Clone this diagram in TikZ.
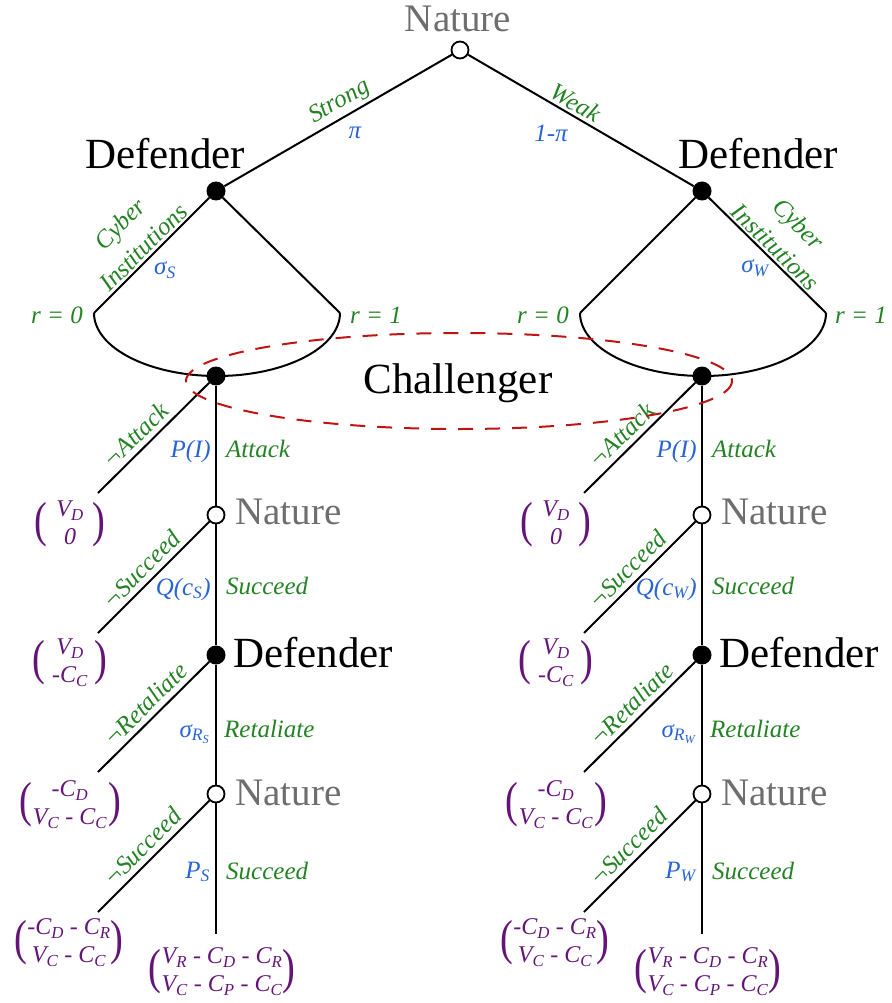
\documentclass[tikz,border=0pt]{standalone}
\usepackage{graphicx}
\usepackage{fontspec}
\setmainfont{Liberation Serif}
\definecolor{lblgreen}{RGB}{35,130,35}
\definecolor{lblblue}{RGB}{40,100,215}
\definecolor{paypurple}{RGB}{100,20,120}
\definecolor{natgray}{RGB}{110,110,110}
\definecolor{infored}{RGB}{190,20,20}
\newcommand{\pv}[2]{#1\textsubscript{#2}}
\newcommand{\bigparen}[1]{\vcenter{\hbox{\upshape\scalebox{1.6}[2.05]{#1}}}}
\newcommand{\payoff}[3][2pt]{$\bigparen{(}\vcenter{\hbox{\begin{tabular}{@{\hspace{#1}}c@{\hspace{#1}}}#2\\#3\end{tabular}}}\bigparen{)}$}
\begin{document}
\begin{tikzpicture}[x=1pt,y=-1pt,
  chance/.style={circle,draw=black,fill=white,line width=1.8pt,minimum size=17pt,inner sep=0pt},
  dec/.style={circle,fill=black,minimum size=19pt,inner sep=0pt},
  branch/.style={line width=2pt,black},
  act/.style={font=\fontsize{25}{30}\selectfont\itshape,text=lblgreen,inner sep=1pt},
  prob/.style={font=\fontsize{25}{30}\selectfont\itshape,text=lblblue,inner sep=1pt},
  player/.style={font=\fontsize{43}{50}\selectfont,text=black,inner sep=0pt},
  natlbl/.style={font=\fontsize{39}{46}\selectfont,text=natgray,inner sep=0pt},
  pay/.style={font=\fontsize{24}{28}\selectfont\itshape,text=paypurple,inner sep=0pt},
  diag/.style={act,sloped,above=4pt},
  twoline/.style={act,sloped,above=1pt,align=center,font=\fontsize{25}{33}\selectfont\itshape},
]
\useasboundingbox (0,0) rectangle (891,1003);
% top of the tree
\node[chance] (n0) at (460,50) {};
\node[natlbl,anchor=base] (n0t) at (458,32) {Nature};
\node[dec] (dS) at (216,191) {};
\node[dec] (dW) at (702,191) {};
\node[player,anchor=base] (dSt) at (165,168) {Defender};
\node[player,anchor=base] (dWt) at (758,168) {Defender};
\draw[branch] (n0) -- node[act,sloped,above=2pt,pos=0.46]{Strong} (dS);
\draw[branch] (n0) -- node[act,sloped,above=2pt,pos=0.45]{Weak} (dW);
\node[prob] (piS) at (355,133) {π};
\node[prob] (piW) at (551,133) {1-π};
% fans
\coordinate (lS0) at (94,313); \coordinate (lS1) at (340,313);
\coordinate (lW0) at (580,313); \coordinate (lW1) at (826,313);
\draw[branch] (dS) -- node[twoline,pos=0.5]{Cyber\\Institutions} (lS0);
\draw[branch] (dS) -- (lS1);
\draw[branch] (dW) -- (lW0);
\draw[branch] (dW) -- node[twoline,pos=0.5]{Cyber\\Institutions} (lW1);
\draw[branch] (lS0) arc[start angle=180,end angle=0,x radius=123,y radius=63];
\draw[branch] (lW0) arc[start angle=180,end angle=0,x radius=123,y radius=63];
\node[prob] (sgS) at (165,270) {σ\textsubscript{S}};
\node[prob] (sgW) at (755,268) {σ\textsubscript{W}};
\node[act] (rS0) at (57,315) {r = 0};
\node[act] (rS1) at (376,315) {r = 1};
\node[act] (rW0) at (543,315) {r = 0};
\node[act] (rW1) at (861,315) {r = 1};
% chains
\foreach \s/\X in {S/216, W/702} {
  \node[dec] (c\s) at (\X,376) {};
  \node[chance] (a\s) at (\X,515) {};
  \node[dec] (r\s) at (\X,655) {};
  \node[chance] (b\s) at (\X,794) {};
  \coordinate (e\s) at (\X,934);
  \coordinate (p1\s) at (\X-118,493);
  \coordinate (p2\s) at (\X-118,633);
  \coordinate (p3\s) at (\X-118,772);
  \coordinate (p4\s) at (\X-118,912);
  \draw[branch] (c\s) -- (a\s) -- (r\s) -- (b\s) -- (e\s);
  \draw[branch] (c\s) -- node[diag,pos=0.57]{¬Attack} (p1\s);
  \draw[branch] (a\s) -- node[diag,pos=0.52]{¬Succeed} (p2\s);
  \draw[branch] (r\s) -- node[diag,pos=0.48]{¬Retaliate} (p3\s);
  \draw[branch] (b\s) -- node[diag,pos=0.51]{¬Succeed} (p4\s);
  \node[natlbl,anchor=base west] (at\s) at (\X+19,524) {Nature};
  \node[player,anchor=base west] (rt\s) at (\X+17,667) {Defender};
  \node[natlbl,anchor=base west] (bt\s) at (\X+19,805) {Nature};
  \node[prob,anchor=base east] (l1\s) at (\X-4,457) {P(I)};
  \node[act,anchor=base west] (m1\s) at (\X+9,457) {Attack};
  \node[prob,anchor=base east] (l2\s) at (\X-4,595) {Q(c\textsubscript{\s})};
  \node[act,anchor=base west] (m2\s) at (\X+9,594) {Succeed};
  \node[prob,anchor=base east] (l3\s) at (\X-5,737) {σ\textsubscript{R\textsubscript{\s}}};
  \node[act,anchor=base west] (m3\s) at (\X+7,737) {Retaliate};
  \node[prob,anchor=base east] (l4\s) at (\X-5,878) {P\textsubscript{\s}};
  \node[act,anchor=base west] (m4\s) at (\X+9,879) {Succeed};
  \node[pay] (q1\s) at (\X-146,525) {\payoff[9pt]{\pv{V}{D}}{0}};
  \node[pay] (q2\s) at (\X-146,663) {\payoff[7pt]{\pv{V}{D}}{-\pv{C}{C}}};
  \node[pay] (q3\s) at (\X-146,805) {\payoff[1pt]{-\pv{C}{D}}{\pv{V}{C} - \pv{C}{C}}};
  \node[pay] (q4\s) at (\X-147,943) {\payoff[0pt]{-\pv{C}{D} - \pv{C}{R}}{\pv{V}{C} - \pv{C}{C}}};
  \node[pay] (q5\s) at (\X+6,972) {\payoff[0pt]{\pv{V}{R} - \pv{C}{D} - \pv{C}{R}}{\pv{V}{C} - \pv{C}{P} - \pv{C}{C}}};
}
% information set
\draw[infored,line width=2pt,dash pattern=on 15pt off 12pt] (459,381) ellipse [x radius=273,y radius=48];
\node[player,anchor=base] (chal) at (458,393) {Challenger};
\end{tikzpicture}
\end{document}
